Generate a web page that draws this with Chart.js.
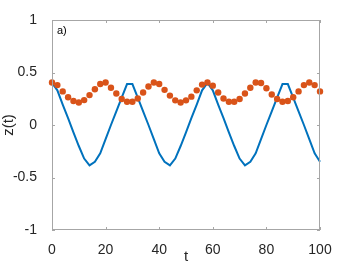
<!DOCTYPE html>
<html>
<head>
<meta charset="utf-8">
<script src="https://cdn.jsdelivr.net/npm/chart.js@4/dist/chart.umd.min.js"></script>
<style>
  html, body { margin: 0; padding: 0; background: #fff; }
  #wrap { width: 354px; height: 266px; }
</style>
</head>
<body>
<div id="wrap"><canvas id="Chart" width="354" height="266"></canvas></div>
<script>
const times = [0, 2, 4, 6, 8, 10, 12, 14, 16, 18, 20, 22, 24, 26, 28, 30, 32, 34, 36, 38, 40,
    42, 44, 46, 48, 50, 52, 54, 56, 58, 60, 62, 64, 66, 68, 70, 72, 74, 76, 78, 80,
    82, 84, 86, 88, 90, 92, 94, 96, 98, 100];

const zLine = [0.40, 0.33, 0.195, 0.065, -0.07, -0.20, -0.32, -0.385, -0.35, -0.27, -0.135,
    0.0, 0.13, 0.26, 0.39, 0.39, 0.26, 0.13, 0.0, -0.135, -0.27,
    -0.35, -0.385, -0.32, -0.20, -0.07, 0.065, 0.195, 0.33, 0.40, 0.33,
    0.195, 0.065, -0.07, -0.20, -0.32, -0.385, -0.35, -0.27, -0.135, 0.0,
    0.13, 0.26, 0.39, 0.39, 0.26, 0.13, 0.0, -0.135, -0.27, -0.35];

const zDots = [0.405, 0.38, 0.32, 0.265, 0.228, 0.215, 0.237, 0.285, 0.34, 0.39, 0.405,
    0.355, 0.30, 0.247, 0.222, 0.222, 0.253, 0.31, 0.367, 0.405, 0.39,
    0.335, 0.28, 0.235, 0.215, 0.235, 0.27, 0.33, 0.385, 0.405, 0.375,
    0.31, 0.253, 0.222, 0.222, 0.247, 0.30, 0.355, 0.405, 0.40, 0.35,
    0.29, 0.247, 0.222, 0.228, 0.265, 0.32, 0.38, 0.405, 0.38, 0.32];

const xTicks = [0, 20, 40, 60, 80, 100];
const yTicks = [-1, -0.5, 0, 0.5, 1];
const panelLabel = 'a)';

const font = 'Liberation Sans, Arial, Helvetica, sans-serif';
const textColor = '#262626';

// box round the plot with inward ticks, like matlab
const boxPlugin = {
    id: 'box',
    afterDraw(chart) {
        const c = chart.ctx;
        const a = chart.chartArea;
        const xs = chart.scales.x;
        const ys = chart.scales.y;
        c.save();
        c.strokeStyle = '#a6a6a6';
        c.lineWidth = 1;
        c.strokeRect(a.left + 0.5, a.top + 0.5, a.right - a.left - 1, a.bottom - a.top - 1);
        c.beginPath();
        xTicks.forEach(v => {
            const px = Math.round(xs.getPixelForValue(v)) + 0.5;
            c.moveTo(px, a.bottom); c.lineTo(px, a.bottom - 3);
            c.moveTo(px, a.top); c.lineTo(px, a.top + 3);
        });
        yTicks.forEach(v => {
            const py = Math.round(ys.getPixelForValue(v)) + 0.5;
            c.moveTo(a.left, py); c.lineTo(a.left + 3, py);
            c.moveTo(a.right, py); c.lineTo(a.right - 3, py);
        });
        c.stroke();
        c.fillStyle = '#000';
        c.font = '11px ' + font;
        c.textBaseline = 'top';
        c.fillText(panelLabel, a.left + 5, a.top + 5);
        c.restore();
    }
};

const ctx = document.getElementById('Chart').getContext('2d');
const chart = new Chart(ctx, {
    type: 'line',
    data: {
        datasets: [{
            label: 'dots',
            data: times.map((t, i) => ({x: t, y: zDots[i]})),
            showLine: false,
            pointRadius: 3.2,
            pointBackgroundColor: '#D95319',
            pointBorderWidth: 0,
            order: 0,
            clip: false
        }, {
            label: 'line',
            data: times.map((t, i) => ({x: t, y: zLine[i]})),
            borderColor: '#0072BD',
            borderWidth: 2,
            pointRadius: 0,
            tension: 0,
            order: 1,
            clip: false
        }]
    },
    options: {
        responsive: false,
        animation: false,
        events: [],
        layout: { padding: { left: 0, top: 20, right: 34, bottom: 0 } },
        plugins: { legend: { display: false }, tooltip: { enabled: false } },
        scales: {
            x: {
                type: 'linear',
                min: 0,
                max: 100,
                afterFit(scale) { scale.height = 36; },
                afterBuildTicks(scale) { scale.ticks = xTicks.map(v => ({value: v})); },
                grid: { display: false },
                border: { display: false },
                ticks: { color: textColor, font: { family: font, size: 14 }, padding: 4, maxRotation: 0 },
                title: { display: true, text: 't', color: textColor, font: { family: font, size: 15 }, padding: { top: -4, bottom: 0 } }
            },
            y: {
                min: -1,
                max: 1,
                afterFit(scale) { scale.width = 52; },
                afterBuildTicks(scale) { scale.ticks = yTicks.map(v => ({value: v})); },
                grid: { display: false },
                border: { display: false },
                ticks: { color: textColor, font: { family: font, size: 14 }, padding: 7,
                    callback: v => String(v) },
                title: { display: true, text: 'z(t)', color: textColor, font: { family: font, size: 15 }, padding: { top: 0, bottom: 0 } }
            }
        }
    },
    plugins: [boxPlugin]
});
</script>
</body>
</html>
